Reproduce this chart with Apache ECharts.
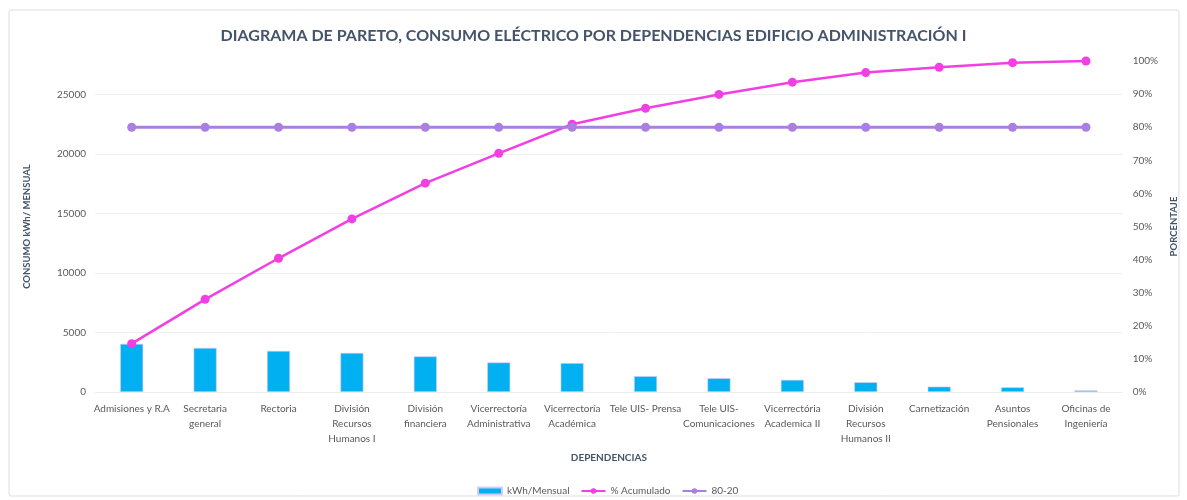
<!DOCTYPE html>
<html>
<head>
<meta charset="utf-8">
<script src="https://cdn.jsdelivr.net/npm/echarts@6/dist/echarts.min.js"></script>
<style>
html,body{margin:0;padding:0;background:#fff;}
#chart{width:1187px;height:500px;}
</style>
</head>
<body>
<div id="chart"></div>
<script>
const categories = [
  'Admisiones y R.A',
  'Secretaria\ngeneral',
  'Rectoria',
  'División\nRecursos\nHumanos I',
  'División\nfinanciera',
  'Vicerrectoría\nAdministrativa',
  'Vicerrectoría\nAcadémica',
  'Tele UIS- Prensa',
  'Tele UIS-\nComunicaciones',
  'Vicerrectória\nAcademica II',
  'División\nRecursos\nHumanos II',
  'Carnetización',
  'Asuntos\nPensionales',
  'Oficinas de\nIngeniería'
];
const kwhMensual = [4040, 3700, 3450, 3280, 2990, 2480, 2430, 1330, 1160, 1020, 820, 450, 395, 135];
const pctAcumulado = [14.6, 28.0, 40.4, 52.3, 63.1, 72.1, 80.9, 85.7, 89.9, 93.6, 96.5, 98.1, 99.5, 100];
const linea8020 = [80, 80, 80, 80, 80, 80, 80, 80, 80, 80, 80, 80, 80, 80];
const leftTicks = [0, 5000, 10000, 15000, 20000, 25000];
const rightTicks = [0, 10, 20, 30, 40, 50, 60, 70, 80, 90, 100];
const leftMax = 27800;

const FONT = 'Lato, "Open Sans", sans-serif';
const chart = echarts.init(document.getElementById('chart'), null, {renderer: 'canvas'});
chart.setOption({
  animation: false,
  backgroundColor: '#ffffff',
  graphic: [{
    type: 'rect',
    shape: {x: 9, y: 10, width: 1170, height: 486, r: 2},
    style: {fill: 'none', stroke: '#d9dde6', lineWidth: 1},
    silent: true, z: -1
  }],
  title: {
    text: 'DIAGRAMA DE PARETO, CONSUMO ELÉCTRICO POR DEPENDENCIAS EDIFICIO ADMINISTRACIÓN I',
    left: 'center',
    top: 23,
    textStyle: {fontFamily: FONT, fontSize: 16, fontWeight: 'bold', color: '#44546a'}
  },
  legend: {
    left: 472,
    top: 481,
    itemWidth: 24,
    itemHeight: 7,
    itemGap: 11,
    textStyle: {fontFamily: FONT, fontSize: 10, color: '#595959'},
    data: [
      {name: 'kWh/Mensual', icon: 'rect'},
      {name: '% Acumulado'},
      {name: '80-20'}
    ]
  },
  grid: {left: 95, right: 64, top: 61, bottom: 108},
  xAxis: {
    type: 'category',
    data: categories,
    name: 'DEPENDENCIAS',
    nameLocation: 'middle',
    nameGap: 61,
    nameTextStyle: {fontFamily: FONT, fontSize: 10, fontWeight: 'bold', color: '#44546a'},
    axisLine: {lineStyle: {color: '#eeeeee'}},
    axisTick: {show: false},
    axisLabel: {interval: 0, fontFamily: FONT, fontSize: 10, color: '#595959', lineHeight: 15, margin: 9}
  },
  yAxis: [{
    type: 'value',
    min: leftTicks[0],
    max: leftMax,
    interval: leftTicks[1] - leftTicks[0],
    name: 'CONSUMO kWh/ MENSUAL',
    nameLocation: 'middle',
    nameGap: 63,
    nameTextStyle: {fontFamily: FONT, fontSize: 9.5, fontWeight: 'bold', color: '#44546a'},
    axisLine: {show: false},
    axisTick: {show: false},
    axisLabel: {fontFamily: FONT, fontSize: 10, color: '#595959', margin: 9, showMaxLabel: false,
      formatter: function (v) { return String(v); }},
    splitLine: {showMaxLine: false, lineStyle: {color: '#f0f0f0', width: 1}}
  }, {
    type: 'value',
    min: rightTicks[0],
    max: rightTicks[rightTicks.length - 1],
    interval: rightTicks[1] - rightTicks[0],
    name: 'PORCENTAJE',
    nameLocation: 'middle',
    nameGap: 45,
    nameTextStyle: {fontFamily: FONT, fontSize: 9.5, fontWeight: 'bold', color: '#44546a'},
    axisLine: {show: false},
    axisTick: {show: false},
    axisLabel: {fontFamily: FONT, fontSize: 10, color: '#595959', margin: 10, formatter: '{value}%'},
    splitLine: {show: false}
  }],
  series: [{
    name: 'kWh/Mensual',
    type: 'bar',
    data: kwhMensual,
    barWidth: 23,
    itemStyle: {color: '#00b0f0', borderColor: '#d6ccf3', borderWidth: 0.6}
  }, {
    name: '% Acumulado',
    type: 'line',
    yAxisIndex: 1,
    data: pctAcumulado,
    symbol: 'circle',
    symbolSize: 9,
    lineStyle: {color: '#f23fe3', width: 2.5},
    itemStyle: {color: '#f23fe3'}
  }, {
    name: '80-20',
    type: 'line',
    yAxisIndex: 1,
    data: linea8020,
    symbol: 'circle',
    symbolSize: 9,
    lineStyle: {color: '#a97fdf', width: 3},
    itemStyle: {color: '#a97fdf'}
  }]
});
</script>
</body>
</html>
